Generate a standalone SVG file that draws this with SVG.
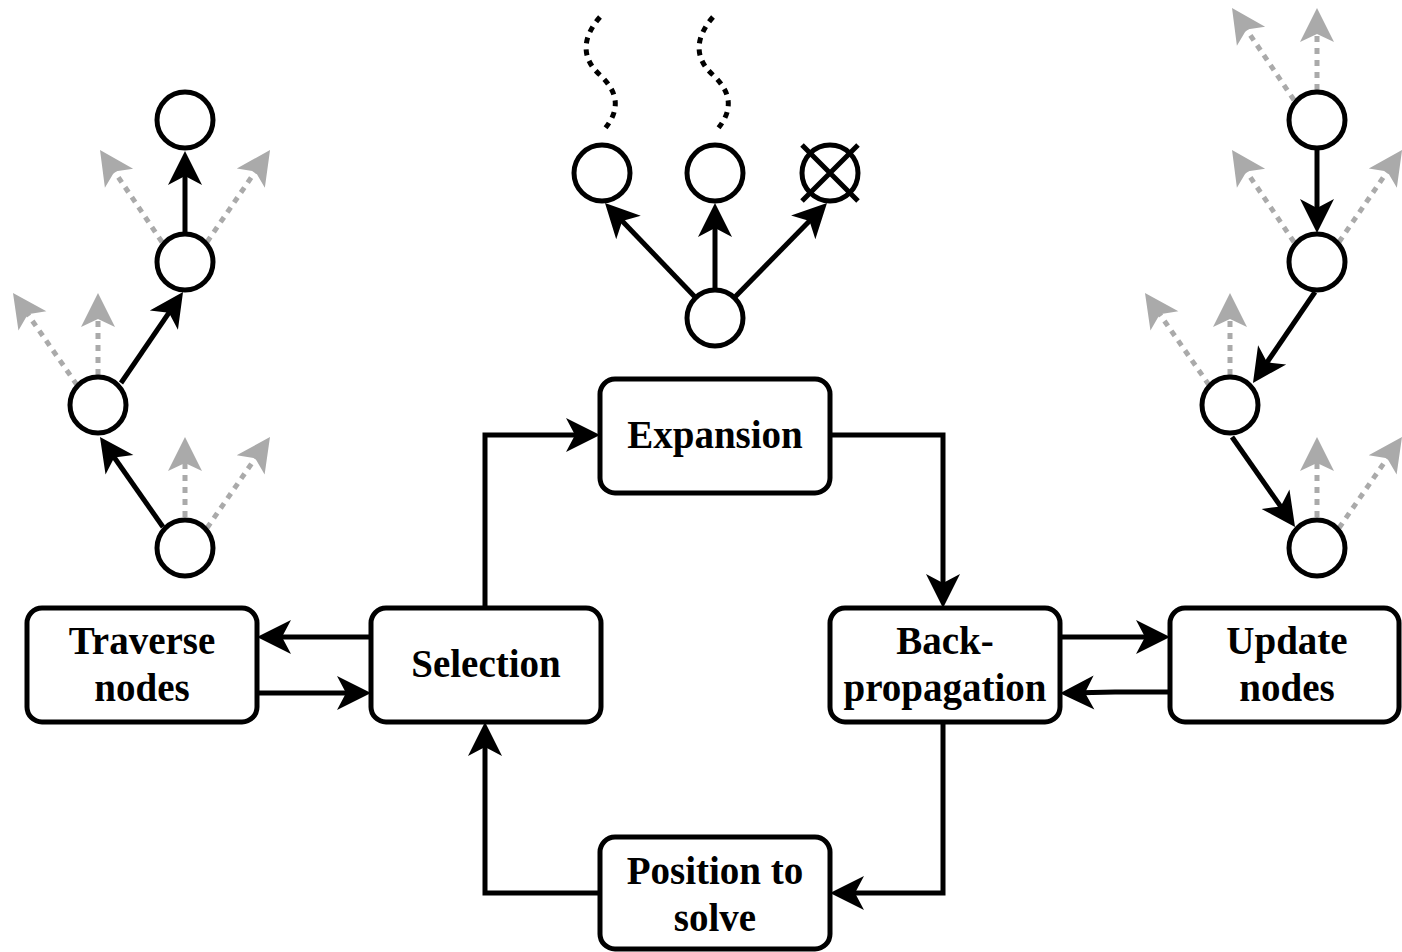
<svg xmlns="http://www.w3.org/2000/svg" width="1402" height="952" viewBox="0 0 1402 952">
  <style>
    .box { fill: #fff; stroke: #000; stroke-width: 5; }
    .lbl { font-family: "Liberation Serif", "Times New Roman", serif; font-weight: bold; font-size: 39px; fill: #000; text-anchor: middle; }
    .node { fill: #fff; stroke: #000; stroke-width: 5; }
    .edge { fill: none; stroke: #000; stroke-width: 5; }
    .flow { marker-end: url(#ah); }
    .hint { fill: none; stroke: #aaa; stroke-width: 5; stroke-dasharray: 6 6; marker-end: url(#ahg); }
    .trail { fill: none; stroke: #000; stroke-width: 5; stroke-dasharray: 6 6; }
  </style>
  <defs>
    <marker id="ah" viewBox="-36 -19 38 38" markerWidth="38" markerHeight="38" refX="-10" refY="0" orient="auto" markerUnits="userSpaceOnUse">
      <path d="M0,0 L-34,-17 L-25,0 L-34,17 Z" fill="#000"/>
    </marker>
    <marker id="ahg" viewBox="-36 -19 38 38" markerWidth="38" markerHeight="38" refX="-10" refY="0" orient="auto" markerUnits="userSpaceOnUse">
      <path d="M0,0 L-34,-17 L-26,0 L-34,17 Z" fill="#aaa"/>
    </marker>
  </defs>

  <rect width="1402" height="952" fill="#fff"/>

  <!-- connectors -->
  <g id="connectors">
    <!-- main loop -->
    <path class="edge flow" d="M371,637 H267"/>
    <path class="edge flow" d="M257,693 H361"/>
    <path class="edge flow" d="M1060,637 H1160"/>
    <path class="edge flow" d="M1170,692 H1115 L1070,693"/>
    <path class="edge flow" d="M485,608 V435 H590"/>
    <path class="edge flow" d="M830,435 H943 V598"/>
    <path class="edge flow" d="M943,722 V893 H840"/>
    <path class="edge flow" d="M600,893 H485 V732"/>

    <!-- left tree: traversal -->
    <path class="hint" d="M162,242 L105.6,158.3"/>
    <path class="hint" d="M207,242 L264.4,158.3"/>
    <path class="hint" d="M77,385 L18.7,301.2"/>
    <path class="hint" d="M98,375 L98,303"/>
    <path class="hint" d="M185,517 L185,447"/>
    <path class="hint" d="M207,528 L264.3,445.2"/>
    <path class="edge flow" d="M163,527 L105.7,445.2"/>
    <path class="edge flow" d="M121,383 L177.4,300.3"/>
    <path class="edge flow" d="M185,233 L185,161"/>

    <!-- middle tree: expansion -->
    <path class="trail" d="M600,17 C580,40 583,60 600,75 C618,92 622,110 602,132"/>
    <path class="trail" d="M713,17 C693,40 696,60 713,75 C731,92 735,110 715,132"/>
    <path class="edge flow" d="M695,297 L611.9,210.2"/>
    <path class="edge flow" d="M715,290 L715,213"/>
    <path class="edge flow" d="M735,297 L820,210.2"/>

    <!-- right tree: update -->
    <path class="hint" d="M1294,100 L1237.6,16.3"/>
    <path class="hint" d="M1317,90 L1317,18"/>
    <path class="hint" d="M1294,242 L1237.6,158.3"/>
    <path class="hint" d="M1339,242 L1396.4,158.3"/>
    <path class="hint" d="M1209,385 L1150.7,301.2"/>
    <path class="hint" d="M1230,375 L1230,303"/>
    <path class="hint" d="M1317,517 L1317,447"/>
    <path class="hint" d="M1339,528 L1396.3,445.2"/>
    <path class="edge flow" d="M1317,150 L1317,223"/>
    <path class="edge flow" d="M1315,292 L1258.6,374.7"/>
    <path class="edge flow" d="M1232,437 L1289.3,518.8"/>
  </g>

  <!-- process boxes -->
  <g id="traverse">
    <rect class="box" x="27" y="608" width="230" height="114" rx="15"/>
    <text class="lbl" x="142" y="654">Traverse</text>
    <text class="lbl" x="142" y="701">nodes</text>
  </g>
  <g id="selection">
    <rect class="box" x="371" y="608" width="230" height="114" rx="15"/>
    <text class="lbl" x="486" y="677">Selection</text>
  </g>
  <g id="expansion">
    <rect class="box" x="600" y="379" width="230" height="114" rx="15"/>
    <text class="lbl" x="715" y="448">Expansion</text>
  </g>
  <g id="backprop">
    <rect class="box" x="830" y="608" width="230" height="114" rx="15"/>
    <text class="lbl" x="945" y="654">Back-</text>
    <text class="lbl" x="945" y="701">propagation</text>
  </g>
  <g id="update">
    <rect class="box" x="1170" y="608" width="229" height="114" rx="15"/>
    <text class="lbl" x="1287" y="654">Update</text>
    <text class="lbl" x="1287" y="701">nodes</text>
  </g>
  <g id="position">
    <rect class="box" x="600" y="837" width="230" height="112" rx="15"/>
    <text class="lbl" x="715" y="884">Position to</text>
    <text class="lbl" x="715" y="931">solve</text>
  </g>

  <!-- left tree nodes -->
  <g id="lt-n1"><circle class="node" cx="185" cy="120" r="28"/></g>
  <g id="lt-n2"><circle class="node" cx="185" cy="262" r="28"/></g>
  <g id="lt-n3"><circle class="node" cx="98" cy="405" r="28"/></g>
  <g id="lt-n4"><circle class="node" cx="185" cy="548" r="28"/></g>

  <!-- middle tree nodes -->
  <g id="mt-root"><circle class="node" cx="715" cy="318" r="28"/></g>
  <g id="mt-a"><circle class="node" cx="602" cy="173" r="28"/></g>
  <g id="mt-b"><circle class="node" cx="715" cy="173" r="28"/></g>
  <g id="mt-c">
    <circle class="node" cx="830" cy="173" r="28"/>
    <path class="edge" d="M802,145 L858,201 M858,145 L802,201"/>
  </g>

  <!-- right tree nodes -->
  <g id="rt-n1"><circle class="node" cx="1317" cy="120" r="28"/></g>
  <g id="rt-n2"><circle class="node" cx="1317" cy="262" r="28"/></g>
  <g id="rt-n3"><circle class="node" cx="1230" cy="405" r="28"/></g>
  <g id="rt-n4"><circle class="node" cx="1317" cy="548" r="28"/></g>
</svg>
